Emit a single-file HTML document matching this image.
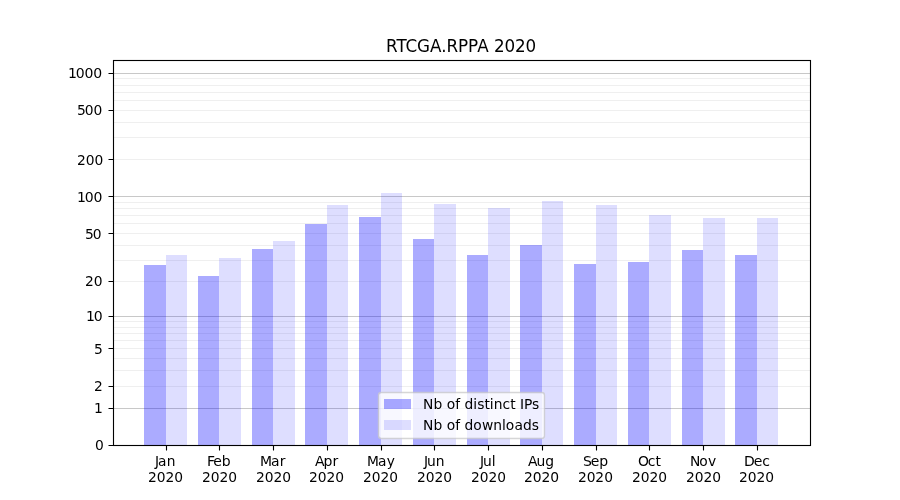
<!DOCTYPE html>
<html><head><meta charset="utf-8"><title>RTCGA.RPPA 2020</title>
<style>html,body{margin:0;padding:0;background:#fff;width:900px;height:500px;overflow:hidden}svg{display:block;will-change:transform}</style>
</head><body>
<svg width="900" height="500" viewBox="0 0 900 500" style="font-family:'DejaVu Sans',sans-serif"><rect x="0" y="0" width="900" height="500" fill="#fff"/>
<g shape-rendering="crispEdges"><rect x="113" y="408" width="697" height="1" fill="rgb(200,200,200)"/><rect x="113" y="386" width="697" height="1" fill="rgb(239,239,239)"/><rect x="113" y="370" width="697" height="1" fill="rgb(239,239,239)"/><rect x="113" y="358" width="697" height="1" fill="rgb(239,239,239)"/><rect x="113" y="348" width="697" height="1" fill="rgb(239,239,239)"/><rect x="113" y="340" width="697" height="1" fill="rgb(239,239,239)"/><rect x="113" y="333" width="697" height="1" fill="rgb(239,239,239)"/><rect x="113" y="327" width="697" height="1" fill="rgb(239,239,239)"/><rect x="113" y="321" width="697" height="1" fill="rgb(239,239,239)"/><rect x="113" y="316" width="697" height="1" fill="rgb(200,200,200)"/><rect x="113" y="281" width="697" height="1" fill="rgb(239,239,239)"/><rect x="113" y="260" width="697" height="1" fill="rgb(239,239,239)"/><rect x="113" y="245" width="697" height="1" fill="rgb(239,239,239)"/><rect x="113" y="233" width="697" height="1" fill="rgb(239,239,239)"/><rect x="113" y="223" width="697" height="1" fill="rgb(239,239,239)"/><rect x="113" y="215" width="697" height="1" fill="rgb(239,239,239)"/><rect x="113" y="208" width="697" height="1" fill="rgb(239,239,239)"/><rect x="113" y="202" width="697" height="1" fill="rgb(239,239,239)"/><rect x="113" y="196" width="697" height="1" fill="rgb(200,200,200)"/><rect x="113" y="159" width="697" height="1" fill="rgb(239,239,239)"/><rect x="113" y="137" width="697" height="1" fill="rgb(239,239,239)"/><rect x="113" y="122" width="697" height="1" fill="rgb(239,239,239)"/><rect x="113" y="110" width="697" height="1" fill="rgb(239,239,239)"/><rect x="113" y="100" width="697" height="1" fill="rgb(239,239,239)"/><rect x="113" y="92" width="697" height="1" fill="rgb(239,239,239)"/><rect x="113" y="85" width="697" height="1" fill="rgb(239,239,239)"/><rect x="113" y="78" width="697" height="1" fill="rgb(239,239,239)"/><rect x="113" y="73" width="697" height="1" fill="rgb(200,200,200)"/></g>
<g shape-rendering="crispEdges"><rect x="144" y="265" width="22" height="180" fill="#00f" fill-opacity="0.33"/><rect x="166" y="255" width="21" height="190" fill="#00f" fill-opacity="0.13"/><rect x="198" y="276" width="21" height="169" fill="#00f" fill-opacity="0.33"/><rect x="219" y="258" width="22" height="187" fill="#00f" fill-opacity="0.13"/><rect x="252" y="249" width="21" height="196" fill="#00f" fill-opacity="0.33"/><rect x="273" y="241" width="22" height="204" fill="#00f" fill-opacity="0.13"/><rect x="305" y="224" width="22" height="221" fill="#00f" fill-opacity="0.33"/><rect x="327" y="205" width="21" height="240" fill="#00f" fill-opacity="0.13"/><rect x="359" y="217" width="22" height="228" fill="#00f" fill-opacity="0.33"/><rect x="381" y="193" width="21" height="252" fill="#00f" fill-opacity="0.13"/><rect x="413" y="239" width="21" height="206" fill="#00f" fill-opacity="0.33"/><rect x="434" y="204" width="22" height="241" fill="#00f" fill-opacity="0.13"/><rect x="467" y="255" width="21" height="190" fill="#00f" fill-opacity="0.33"/><rect x="488" y="208" width="22" height="237" fill="#00f" fill-opacity="0.13"/><rect x="520" y="245" width="22" height="200" fill="#00f" fill-opacity="0.33"/><rect x="542" y="201" width="21" height="244" fill="#00f" fill-opacity="0.13"/><rect x="574" y="264" width="22" height="181" fill="#00f" fill-opacity="0.33"/><rect x="596" y="205" width="21" height="240" fill="#00f" fill-opacity="0.13"/><rect x="628" y="262" width="21" height="183" fill="#00f" fill-opacity="0.33"/><rect x="649" y="215" width="22" height="230" fill="#00f" fill-opacity="0.13"/><rect x="682" y="250" width="21" height="195" fill="#00f" fill-opacity="0.33"/><rect x="703" y="218" width="22" height="227" fill="#00f" fill-opacity="0.13"/><rect x="735" y="255" width="22" height="190" fill="#00f" fill-opacity="0.33"/><rect x="757" y="218" width="21" height="227" fill="#00f" fill-opacity="0.13"/></g>
<rect x="113.5" y="60.5" width="697" height="385" fill="none" stroke="#000" stroke-width="1.1111" stroke-linejoin="miter"/>
<path d="M108.5 445.5H113.5M108.5 408.5H113.5M108.5 386.5H113.5M108.5 348.5H113.5M108.5 316.5H113.5M108.5 281.5H113.5M108.5 233.5H113.5M108.5 196.5H113.5M108.5 159.5H113.5M108.5 110.5H113.5M108.5 73.5H113.5M166.5 445.5V450.5M219.5 445.5V450.5M273.5 445.5V450.5M327.5 445.5V450.5M381.5 445.5V450.5M434.5 445.5V450.5M488.5 445.5V450.5M542.5 445.5V450.5M596.5 445.5V450.5M649.5 445.5V450.5M703.5 445.5V450.5M757.5 445.5V450.5" stroke="#000" stroke-width="1.1111" fill="none"/>
<path d="M381.278 438.500L541.722 438.500Q544.500 438.500 544.500 435.722L544.500 395.278Q544.500 392.500 541.722 392.500L381.278 392.500Q378.500 392.500 378.500 395.278L378.500 435.722Q378.500 438.500 381.278 438.500Z" fill="#fff" stroke="#ccc" stroke-width="1.3889" stroke-linejoin="miter" opacity="0.8"/>
<g shape-rendering="crispEdges"><rect x="384" y="399" width="27" height="10" fill="#00f" fill-opacity="0.33"/><rect x="384" y="420" width="27" height="10" fill="#00f" fill-opacity="0.13"/></g>
<g fill="#000"><text x="154.93 157.98 166.71" y="465.53" font-size="13.789px">Jan</text>
<text x="147.94 156.64 165.53 174.33" y="481.58" font-size="13.839px">2020</text>
<text x="206.92 213.21 221.72" y="465.53" font-size="13.989px">Feb</text>
<text x="201.94 210.74 219.53 228.33" y="481.58" font-size="13.839px">2020</text>
<text x="259.89 270.97 279.69" y="465.53" font-size="13.939px">Mar</text>
<text x="255.93 264.73 273.42 282.32" y="481.58" font-size="13.839px">2020</text>
<text x="314.92 323.53 332.41" y="465.53" font-size="13.989px">Apr</text>
<text x="308.91 317.71 326.50 335.30" y="481.58" font-size="13.839px">2020</text>
<text x="366.97 378.05 386.67" y="465.53" font-size="13.789px">May</text>
<text x="362.97 371.72 380.39 389.24" y="481.58" font-size="13.789px">2020</text>
<text x="423.88 426.96 435.71" y="465.53" font-size="13.839px">Jun</text>
<text x="416.93 425.73 434.52 443.32" y="481.58" font-size="13.839px">2020</text>
<text x="479.95 482.93 491.68" y="465.53" font-size="13.839px">Jul</text>
<text x="471.10 479.65 488.42 497.37" y="481.58" font-size="13.789px">2020</text>
<text x="527.97 536.58 545.31" y="465.53" font-size="13.889px">Aug</text>
<text x="523.94 532.69 541.46 550.21" y="481.58" font-size="13.889px">2020</text>
<text x="582.96 590.69 599.36" y="465.53" font-size="13.989px">Sep</text>
<text x="578.12 586.67 595.14 604.19" y="481.58" font-size="13.839px">2020</text>
<text x="637.92 647.65 655.61" y="465.53" font-size="13.889px">Oct</text>
<text x="631.95 640.75 649.54 658.34" y="481.58" font-size="13.839px">2020</text>
<text x="689.95 699.15 707.97" y="465.53" font-size="13.839px">Nov</text>
<text x="685.94 694.64 703.53 712.33" y="481.58" font-size="13.839px">2020</text>
<text x="743.90 753.84 762.34" y="465.53" font-size="14.039px">Dec</text>
<text x="738.93 747.73 756.52 765.32" y="481.58" font-size="13.839px">2020</text>
<text x="94.89" y="449.53" font-size="13.839px">0</text>
<text x="93.96" y="412.67" font-size="13.889px">1</text>
<text x="93.96" y="390.57" font-size="13.789px">2</text>
<text x="93.95" y="353.71" font-size="13.839px">5</text>
<text x="85.89 93.69" y="320.55" font-size="14.039px">10</text>
<text x="84.94 93.76" y="285.70" font-size="13.839px">20</text>
<text x="84.96 92.66" y="238.63" font-size="13.839px">50</text>
<text x="76.88 84.69 93.42" y="201.55" font-size="14.039px">100</text>
<text x="76.93 85.74 94.57" y="164.71" font-size="13.839px">200</text>
<text x="76.90 84.70 93.40" y="114.74" font-size="13.839px">500</text>
<text x="67.95 75.66 84.39 93.22" y="77.69" font-size="14.039px">1000</text>
<text x="385.97 396.38 405.43 416.93 429.90 441.17 446.40 458.04 467.93 477.17 488.62 493.95 504.60 514.96 525.42" y="51.67" font-size="16.760px">RTCGA.RPPA 2020</text>
<text x="423.06 433.43 442.23 446.65 455.14 460.03 464.43 473.25 477.19 484.43 489.76 493.72 502.42 510.14 515.48 519.89 523.98 532.11" y="408.73" font-size="13.839px">Nb of distinct IPs</text>
<text x="422.91 433.45 442.42 446.83 455.28 460.15 464.54 473.33 481.88 493.19 501.96 505.70 514.45 522.94 531.70" y="429.61" font-size="13.839px">Nb of downloads</text></g></svg>
</body></html>
